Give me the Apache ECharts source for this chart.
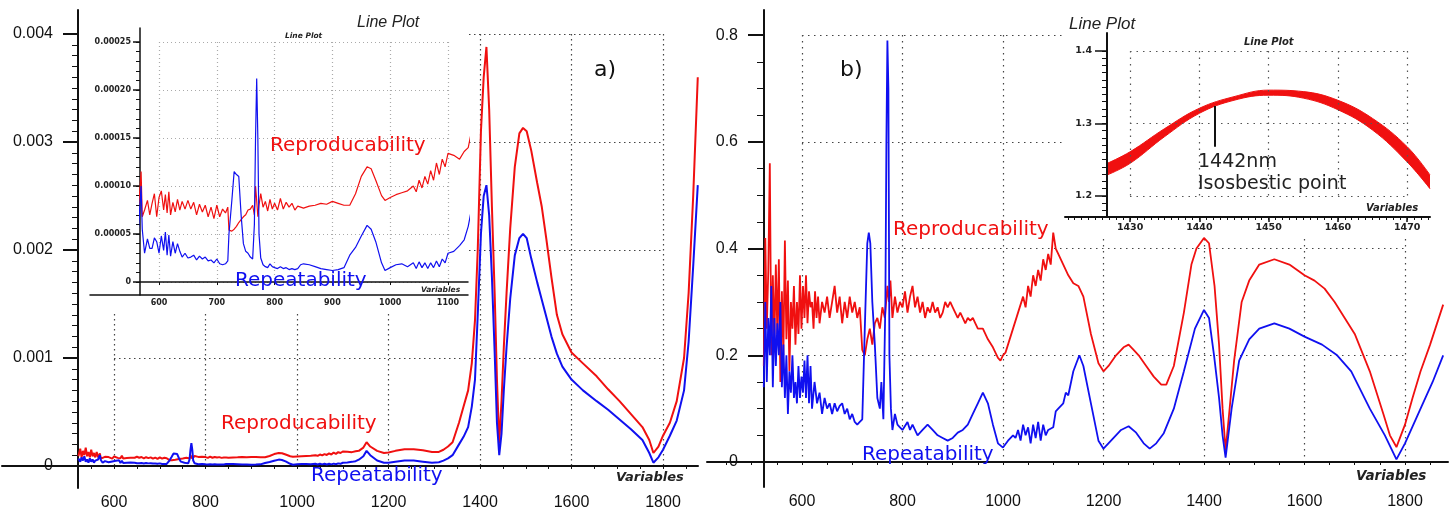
<!DOCTYPE html>
<html>
<head>
<meta charset="utf-8">
<script src="https://cdn.jsdelivr.net/npm/echarts@6/dist/echarts.min.js"></script>
<style>
  html, body { margin: 0; padding: 0; background: #fff; }
  #chart { width: 1450px; height: 508px; }
</style>
</head>
<body>
<div id="chart"></div>
<script>
// ---- panel a: standard deviations, values in units of 1e-5 ----
var aWave = [
  522, 526, 529, 532, 535, 538, 541, 544, 547, 550,
  553, 556, 559, 562, 565, 569, 571, 575, 580, 584,
  588, 592, 596, 600, 604, 608, 611, 614, 617, 620,
  624, 628, 632, 636, 640, 645, 650, 655, 660, 665,
  670, 675, 680, 685, 690, 695, 700, 705, 710, 715,
  719, 721, 726, 730, 734, 738, 742, 746, 750, 754,
  758, 762, 765, 767, 769, 771, 773, 776, 780, 784,
  788, 792, 796, 800, 805, 810, 815, 820, 825, 830,
  835, 840, 845, 850, 860, 870, 880, 890, 900, 910,
  920, 930, 940, 950, 960, 967, 975, 985, 991, 1000,
  1010, 1020, 1030, 1040, 1045, 1050, 1055, 1060, 1065, 1070,
  1075, 1080, 1085, 1090, 1095, 1100, 1110, 1120, 1128, 1135,
  1145, 1152, 1160, 1175, 1190, 1200, 1215, 1235, 1255, 1275,
  1295, 1310, 1320, 1330, 1340, 1354, 1364, 1374, 1382, 1389,
  1395, 1402, 1408, 1414, 1420, 1426, 1432, 1437, 1442, 1447,
  1452, 1458, 1466, 1476, 1486, 1494, 1502, 1512, 1525, 1535,
  1545, 1556, 1568, 1580, 1600, 1625, 1655, 1680, 1705, 1730,
  1755, 1770, 1779, 1790, 1800, 1815, 1830, 1846, 1856, 1866,
  1876
]
var aRepro = [
  9, 16, 8, 14, 10, 17, 9, 13, 8, 15,
  9, 12, 8, 13, 8, 11.5, 6.8, 7.5, 8.5, 7,
  8.2, 9.2, 6.8, 8.8, 9.5, 7.5, 9.1, 7.2, 9.4, 7.0,
  8.3, 7.3, 8.6, 7.5, 8.4, 7.6, 8.5, 7.6, 8.3, 7.0,
  8.1, 7.3, 8.0, 6.8, 7.8, 6.6, 8.0, 6.8, 7.6, 7.2,
  7.8, 5.4, 5.3, 5.5, 5.8, 6.2, 6.5, 6.8, 7.0, 7.5,
  7.6, 8.0, 7.0, 10.0, 8.5, 6.8, 8.0, 9.2, 7.8, 8.4,
  7.4, 8.6, 7.6, 8.2, 7.5, 8.7, 7.6, 8.3, 7.8, 8.2,
  7.5, 7.9, 7.8, 7.7, 7.9, 8.0, 8.2, 8.1, 8.4, 8.2,
  8.0, 8.0, 9.2, 11.0, 12.0, 11.8, 10.6, 9.0, 8.5, 8.8,
  9.1, 9.3, 9.5, 10.0, 9.4, 10.6, 9.8, 11.0, 10.2, 11.6,
  10.6, 12.4, 11.2, 12.8, 12.0, 13.4, 13.2, 12.8, 13.6, 14.0,
  17, 22, 18, 14, 12, 12.5, 14, 15.5, 15.5, 14.5,
  13, 13, 15, 18, 22, 40, 55, 70, 95, 135,
  200, 310, 360, 388, 330, 240, 160, 80, 21, 60,
  110, 160, 220, 277, 308, 313, 310, 292, 262, 240,
  210, 175, 140, 122, 105, 95, 83, 71, 60, 48,
  36, 24, 12, 18, 28, 40, 60, 100, 160, 250,
  360
]
var aRepeat = [
  7, 4, 8, 5, 9, 4, 6, 3, 7, 4,
  6, 3, 5, 4, 6, 10, 5.5, 3, 4.5, 3.5,
  3.5, 4.6, 4.2, 3.0, 4.8, 3.3, 5.2, 2.8, 4.9, 2.7,
  4.2, 3.0, 4.0, 3.2, 2.6, 3.0, 2.5, 2.6, 2.8, 2.3,
  2.7, 2.4, 2.6, 2.2, 2.3, 2.0, 2.4, 1.9, 1.8, 1.9,
  2.2, 5.0, 8.5, 11.5, 11.2, 11.0, 7.0, 4.0, 3.2, 3.0,
  2.6, 2.4, 6.0, 15.0, 21.2, 15.0, 5.0, 2.5, 1.8, 1.6,
  1.5, 1.9, 1.6, 1.5, 1.4, 1.6, 1.4, 1.5, 1.3, 1.4,
  1.3, 1.4, 1.8, 1.9, 1.8, 1.6, 1.4, 1.3, 1.2, 1.3,
  1.5, 2.8, 3.6, 4.8, 5.9, 5.5, 4.2, 2.0, 1.2, 1.5,
  1.8, 1.9, 1.6, 2.0, 1.4, 2.1, 1.5, 2.0, 1.4, 2.0,
  1.5, 2.2, 1.6, 2.4, 2.0, 3.0, 3.2, 3.8, 4.4, 5.8,
  9, 14, 10, 5, 3, 3, 4, 5, 5, 4,
  3, 3.5, 5, 7, 10, 20, 27, 36, 55, 80,
  140, 215, 250, 260, 232, 175, 105, 40, 10, 30,
  70, 110, 155, 195, 211, 215, 211, 192, 170, 154,
  138, 120, 104, 92, 80, 70, 60, 52, 43, 34,
  24, 12, 3, 8, 15, 28, 42, 70, 115, 185,
  260
]
var A_UNIT = 1e-5

// ---- panel b: relative values ----
var bReproWave = [
  524, 527, 530, 533, 536, 539, 542, 545, 548, 551,
  554, 557, 560, 563, 566, 569, 572, 575, 578, 581,
  584, 587, 590, 593, 596, 599, 602, 605, 608, 611,
  614, 617, 620, 623, 626, 629, 632, 635, 640, 645,
  650, 655, 660, 665, 670, 675, 680, 685, 690, 695,
  700, 705, 710, 715, 720, 725, 730, 735, 740, 745,
  750, 755, 760, 765, 770, 773, 776, 780, 785, 790,
  795, 800, 805, 810, 815, 820, 825, 830, 835, 840,
  845, 850, 855, 860, 865, 870, 875, 880, 885, 890,
  895, 900, 905, 910, 915, 920, 925, 930, 935, 940,
  945, 950, 960, 970, 980, 990, 995, 1000, 1005, 1010,
  1020, 1030, 1040, 1045, 1050, 1055, 1060, 1065, 1070, 1075,
  1080, 1085, 1090, 1095, 1100, 1105, 1110, 1120, 1130, 1140,
  1150, 1160, 1175, 1190, 1200, 1210, 1225, 1240, 1250, 1260,
  1270, 1285, 1300, 1315, 1325, 1340, 1360, 1375, 1385, 1400,
  1410, 1421, 1430, 1437, 1443, 1450, 1460, 1475, 1490, 1510,
  1540, 1570, 1600, 1620, 1640, 1660, 1680, 1700, 1730, 1757,
  1770, 1783, 1800, 1815, 1831, 1850, 1876
]
var bRepro = [
  0.18, 0.42, 0.25, 0.36, 0.56, 0.2, 0.35, 0.22, 0.37, 0.24,
  0.38, 0.15, 0.32, 0.2, 0.415, 0.23, 0.34, 0.17, 0.3, 0.25,
  0.33, 0.22, 0.3, 0.24, 0.35, 0.25, 0.33, 0.27, 0.35, 0.26,
  0.32, 0.29, 0.3, 0.25, 0.32, 0.27, 0.31, 0.26, 0.3, 0.28,
  0.31, 0.27, 0.3, 0.33, 0.28, 0.31, 0.26, 0.3, 0.27, 0.31,
  0.28, 0.3, 0.27, 0.29, 0.21, 0.2, 0.23, 0.25, 0.22, 0.26,
  0.27, 0.25, 0.29, 0.27, 0.33, 0.3, 0.34, 0.27, 0.31, 0.28,
  0.3, 0.29, 0.32, 0.28, 0.31, 0.33, 0.29, 0.31, 0.28, 0.3,
  0.27, 0.29, 0.28, 0.3, 0.28, 0.29, 0.27, 0.28, 0.3, 0.29,
  0.3, 0.29, 0.28, 0.27, 0.28, 0.27, 0.26, 0.27, 0.265, 0.27,
  0.26, 0.25, 0.25, 0.23, 0.215, 0.195, 0.19, 0.2, 0.205, 0.22,
  0.25, 0.28, 0.31, 0.29, 0.33, 0.31, 0.35, 0.33, 0.36, 0.34,
  0.38, 0.36, 0.39, 0.37, 0.43, 0.40, 0.39, 0.37, 0.35, 0.335,
  0.33, 0.31, 0.24, 0.185, 0.17, 0.18, 0.2, 0.215, 0.22, 0.21,
  0.2, 0.18, 0.16, 0.145, 0.145, 0.18, 0.28, 0.37, 0.40, 0.42,
  0.41, 0.33, 0.22, 0.1, 0.022, 0.09, 0.19, 0.3, 0.34, 0.37,
  0.38, 0.37, 0.35, 0.34, 0.325, 0.3, 0.27, 0.24, 0.17, 0.09,
  0.05, 0.028, 0.07, 0.12, 0.17, 0.22, 0.295
]
var bRepeatWave = [
  524, 527, 530, 533, 536, 539, 542, 545, 548, 551,
  554, 557, 560, 563, 566, 569, 572, 575, 578, 581,
  584, 587, 590, 593, 596, 599, 602, 605, 608, 611,
  614, 617, 620, 625, 630, 635, 640, 645, 650, 655,
  660, 665, 670, 675, 680, 685, 690, 695, 700, 705,
  710, 715, 720, 725, 730, 733, 736, 740, 745, 750,
  755, 758, 762, 766, 768, 770, 772, 774, 777, 780,
  785, 790, 795, 800, 810, 815, 820, 830, 840, 850,
  860, 870, 880, 890, 900, 910, 920, 930, 940, 950,
  960, 970, 980, 990, 1000, 1010, 1020, 1025, 1030, 1035,
  1040, 1045, 1050, 1055, 1060, 1065, 1070, 1075, 1080, 1085,
  1090, 1100, 1105, 1110, 1120, 1125, 1130, 1140, 1152, 1160,
  1175, 1190, 1200, 1215, 1235, 1250, 1265, 1280, 1292, 1305,
  1320, 1340, 1360, 1382, 1400, 1410, 1420, 1430, 1437, 1443,
  1455, 1470, 1490, 1510, 1540, 1570, 1600, 1635, 1665, 1693,
  1730, 1760, 1783, 1800, 1831, 1855, 1876
]
var bRepeat = [
  0.14, 0.3, 0.15, 0.27, 0.2, 0.33, 0.14, 0.27, 0.18, 0.26,
  0.2, 0.3, 0.14, 0.22, 0.12, 0.2, 0.09, 0.17, 0.13, 0.2,
  0.12, 0.15, 0.11, 0.18, 0.12, 0.16, 0.13, 0.19, 0.12, 0.2,
  0.11, 0.18, 0.1, 0.15, 0.11, 0.13, 0.09, 0.12, 0.1, 0.11,
  0.09, 0.11, 0.095, 0.105, 0.11, 0.09, 0.1, 0.08, 0.09, 0.075,
  0.07, 0.075, 0.08, 0.25, 0.41, 0.43, 0.41, 0.3, 0.22, 0.12,
  0.1, 0.15, 0.08, 0.3, 0.6, 0.79, 0.7, 0.2, 0.1, 0.06,
  0.09, 0.07, 0.065, 0.06, 0.075, 0.06, 0.07, 0.05, 0.06, 0.07,
  0.06, 0.05, 0.045, 0.04, 0.045, 0.055, 0.06, 0.07, 0.09, 0.11,
  0.13, 0.11, 0.07, 0.035, 0.027, 0.04, 0.05, 0.045, 0.06, 0.04,
  0.07, 0.05, 0.065, 0.035, 0.07, 0.045, 0.075, 0.04, 0.07, 0.05,
  0.06, 0.065, 0.095, 0.1, 0.11, 0.13, 0.125, 0.17, 0.2, 0.18,
  0.11, 0.04, 0.025, 0.04, 0.06, 0.067, 0.055, 0.035, 0.025, 0.035,
  0.054, 0.1, 0.17, 0.25, 0.285, 0.27, 0.2, 0.12, 0.05, 0.008,
  0.1, 0.19, 0.23, 0.25, 0.26, 0.25, 0.235, 0.22, 0.2, 0.17,
  0.1, 0.05, 0.005, 0.035, 0.1, 0.15, 0.2
]

// ---- inset b: band of spectra around the isosbestic point ----
var bandWave = [1426.7, 1430, 1435, 1440, 1445, 1450, 1455, 1460, 1465, 1470, 1473.3]
var bandLow = [1.229, 1.245, 1.282, 1.314, 1.332, 1.339, 1.335, 1.319, 1.291, 1.247, 1.210]
var bandHigh = [1.245, 1.261, 1.293, 1.321, 1.337, 1.346, 1.344, 1.332, 1.307, 1.268, 1.229]
var isoWave = 1442.2
var isoTop = 1.324
var isoBottom = 1.268

// ---- tick labels ----
var mainLabelsX = [600, 800, 1000, 1200, 1400, 1600, 1800]
var aLabelsY = [0, 0.001, 0.002, 0.003, 0.004]
var insetALabelsX = [600, 700, 800, 900, 1000, 1100]
var insetALabelsY = [0, 0.00005, 0.0001, 0.00015, 0.0002, 0.00025]
var bLabelsY = [0, 0.2, 0.4, 0.6, 0.8]
var insetBLabelsX = [1430, 1440, 1450, 1460, 1470]
var insetBLabelsY = [1.2, 1.3, 1.4]

var RED = '#f01010'
var BLUE = '#1010f0'
var INK = '#111'

function steps(from, to, step) {
  var out = []
  var n = Math.round((to - from) / step)
  for (var i = 0; i <= n; i++) out.push(+(from + i * step).toFixed(7))
  return out
}

function pairs(xs, ys, k) {
  return xs.map(function(x, i) { return [x, ys[i] * (k || 1)] })
}

function plain(v) { return String(v) }

var labelFont = { color: INK, fontSize: 16, fontFamily: 'Liberation Sans' }
var smallFont = { color: '#222', fontSize: 8, fontWeight: 'bold', fontFamily: 'DejaVu Sans' }
var midFont = { color: '#222', fontSize: 9.5, fontWeight: 'bold', fontFamily: 'DejaVu Sans' }

function noSplit() { return { show: false } }

// dotted grid box spanning only the labelled range
function boxAxis(grid, min, max, interval, color, dash, z) {
  return {
    type: 'value', gridIndex: grid, min: min, max: max, interval: interval, z: z || 0,
    axisLine: { show: false }, axisTick: { show: false }, axisLabel: { show: false },
    splitLine: { show: true, lineStyle: { color: color, width: 1.2, type: dash } }
  }
}

function tickAxis(grid, pos, min, max, offset, values, len, z) {
  return {
    type: 'value', gridIndex: grid, position: pos, min: min, max: max, offset: offset || 0, z: z || 0,
    axisLine: { show: false },
    axisTick: { show: true, customValues: values, length: len, lineStyle: { color: INK, width: 1 } },
    axisLabel: { show: false }, splitLine: noSplit()
  }
}

var chart = echarts.init(document.getElementById('chart'))

var grids = [
  { left: 2, top: 10, width: 696, height: 478 },      // 0 a main
  { left: 114, top: 34, width: 549, height: 432 },    // 1 a dotted box
  { left: 140, top: 28, width: 328, height: 267 },    // 2 a inset
  { left: 159, top: 42, width: 289, height: 240 },    // 3 a inset dotted box
  { left: 90, top: 28, width: 378, height: 267 },     // 4 a inset axis extension
  { left: 707, top: 10, width: 741, height: 477 },    // 5 b main
  { left: 802, top: 35, width: 603, height: 427 },    // 6 b dotted box
  { left: 1065, top: 33, width: 365, height: 184 },   // 7 b inset
  { left: 1130, top: 51, width: 277, height: 145 }    // 8 b inset dotted box
].map(function(g) {
  return Object.assign({ containLabel: false, outerBoundsMode: 'none' }, g)
})

var A_MIN_Y = -0.000204, A_MAX_Y = 0.004222
var IA_MIN_Y = -0.0000135, IA_MAX_Y = 0.0002646
var B_MIN_Y = -0.04686, B_MAX_Y = 0.8472
var IB_MIN_X = 1420.6, IB_MAX_X = 1473.3, IB_MIN_Y = 1.171, IB_MAX_Y = 1.4248

var xAxes = [
  { // 0 a main
    type: 'value', gridIndex: 0, min: 355, max: 1876.5,
    axisLine: { lineStyle: { color: INK, width: 2 } },
    axisTick: { customValues: steps(550, 1850, 50), length: 3, lineStyle: { color: INK } },
    axisLabel: Object.assign({ customValues: mainLabelsX, margin: 7, formatter: plain }, labelFont),
    splitLine: noSplit()
  },
  boxAxis(1, 600, 1800, 200, '#444', [1.5, 3.5]),   // 1
  { // 2 a inset
    type: 'value', gridIndex: 2, min: 567.1, max: 1134.6, z: 10,
    axisLine: { lineStyle: { color: INK, width: 1.5 } },
    axisTick: { customValues: insetALabelsX, length: 3, lineStyle: { color: INK } },
    axisLabel: Object.assign({ customValues: insetALabelsX, margin: 4, formatter: plain }, smallFont),
    splitLine: noSplit()
  },
  boxAxis(3, 600, 1100, 100, '#aaa', [1, 3], 9),      // 3
  { // 4 inset axis line extension
    type: 'value', gridIndex: 4, min: 0, max: 1, z: 10,
    axisLine: { lineStyle: { color: INK, width: 1.5 } },
    axisTick: { show: false }, axisLabel: { show: false }, splitLine: noSplit()
  },
  { // 5 b main
    type: 'value', gridIndex: 5, min: 411, max: 1885.6,
    axisLine: { lineStyle: { color: INK, width: 2 } },
    axisTick: { customValues: steps(450, 1850, 50), length: 3, lineStyle: { color: INK } },
    axisLabel: Object.assign({ customValues: mainLabelsX, margin: 7, formatter: plain }, labelFont),
    splitLine: noSplit()
  },
  boxAxis(6, 600, 1800, 200, '#444', [1.5, 4.5]),   // 6
  { // 7 b inset
    type: 'value', gridIndex: 7, min: IB_MIN_X, max: IB_MAX_X, z: 10,
    axisLine: { lineStyle: { color: INK, width: 2 } },
    axisTick: { customValues: insetBLabelsX, length: 5, lineStyle: { color: INK, width: 1.5 } },
    axisLabel: Object.assign({ customValues: insetBLabelsX, margin: 6, formatter: plain }, midFont),
    splitLine: noSplit()
  },
  tickAxis(7, 'bottom', IB_MIN_X, IB_MAX_X, 0, steps(1421, 1473, 1), 3, 10), // 8
  boxAxis(8, 1430, 1470, 10, '#555', [1.5, 5], 9)     // 9
]

var yAxes = [
  { // 0 a main
    type: 'value', gridIndex: 0, position: 'left', min: A_MIN_Y, max: A_MAX_Y, offset: -76,
    axisLine: { show: true, lineStyle: { color: INK, width: 2 } },
    axisTick: { show: true, customValues: aLabelsY, length: 15, lineStyle: { color: INK, width: 2 } },
    axisLabel: Object.assign({ customValues: aLabelsY, margin: 25 }, labelFont),
    splitLine: noSplit()
  },
  tickAxis(0, 'left', A_MIN_Y, A_MAX_Y, -76, steps(0, 0.004, 0.0001), 6),   // 1
  boxAxis(1, 0, 0.004, 0.001, '#444', [1.5, 3.5]),                            // 2
  { // 3 a inset
    type: 'value', gridIndex: 2, position: 'left', min: IA_MIN_Y, max: IA_MAX_Y, z: 10,
    axisLine: { show: true, lineStyle: { color: INK, width: 1.5 } },
    axisTick: { show: true, customValues: insetALabelsY, length: 7, lineStyle: { color: INK, width: 1.5 } },
    axisLabel: Object.assign({
      customValues: insetALabelsY, margin: 9,
      formatter: function(v) { return v === 0 ? '0' : v.toFixed(5) }
    }, smallFont),
    splitLine: noSplit()
  },
  tickAxis(2, 'left', IA_MIN_Y, IA_MAX_Y, 0, steps(0, 0.00025, 0.00001), 4, 10), // 4
  boxAxis(3, 0, 0.00025, 0.00005, '#aaa', [1, 3], 9),                             // 5
  { type: 'value', gridIndex: 4, min: 0, max: 1, show: false },                   // 6
  { // 7 b main
    type: 'value', gridIndex: 5, position: 'left', min: B_MIN_Y, max: B_MAX_Y, offset: -57,
    axisLine: { show: true, lineStyle: { color: INK, width: 2 } },
    axisTick: { show: true, customValues: bLabelsY, length: 16, lineStyle: { color: INK, width: 2 } },
    axisLabel: Object.assign({ customValues: bLabelsY, margin: 26 }, labelFont),
    splitLine: noSplit()
  },
  tickAxis(5, 'left', B_MIN_Y, B_MAX_Y, -57, steps(0, 0.8, 0.05), 7),        // 8
  boxAxis(6, 0, 0.8, 0.2, '#444', [1.5, 4.5]),                                 // 9
  { // 10 b inset
    type: 'value', gridIndex: 7, position: 'left', min: IB_MIN_Y, max: IB_MAX_Y, offset: -42, z: 10,
    axisLine: { show: true, lineStyle: { color: INK, width: 2 } },
    axisTick: { show: true, customValues: insetBLabelsY, length: 12, lineStyle: { color: INK, width: 1.5 } },
    axisLabel: Object.assign({ customValues: insetBLabelsY, margin: 15, formatter: function(v) { return v.toFixed(1) } }, midFont),
    splitLine: noSplit()
  },
  tickAxis(7, 'left', IB_MIN_Y, IB_MAX_Y, -42, steps(1.18, 1.4, 0.01), 5, 10), // 11
  boxAxis(8, 1.2, 1.4, 0.1, '#555', [1.5, 5], 9)                               // 12
]

function line(data, xi, yi, color, width, z) {
  return {
    type: 'line', xAxisIndex: xi, yAxisIndex: yi, data: data, symbol: 'none',
    lineStyle: { color: color, width: width }, itemStyle: { color: color }, z: z || 2, silent: true
  }
}

// band: red fill under the upper edge, then white fill under the lower edge
var bandUpper = line(pairs(bandWave, bandHigh), 7, 10, RED, 1, 6)
bandUpper.smooth = 0.4
bandUpper.areaStyle = { color: RED, opacity: 1, origin: 'start' }

var bandLower = line(pairs(bandWave, bandLow), 7, 10, RED, 1, 7)
bandLower.smooth = 0.4
bandLower.areaStyle = { color: '#fff', opacity: 1, origin: 'start' }
bandLower.markLine = {
  z: 11, symbol: 'none', silent: true, label: { show: false },
  lineStyle: { color: INK, width: 2, type: 'solid' },
  data: [[{ coord: [isoWave, isoTop] }, { coord: [isoWave, isoBottom] }]]
}

var series = [
  line(pairs(aWave, aRepro, A_UNIT), 0, 0, RED, 2),
  line(pairs(aWave, aRepeat, A_UNIT), 0, 0, BLUE, 2),
  line(pairs(aWave, aRepro, A_UNIT), 2, 3, RED, 1.2, 10),
  line(pairs(aWave, aRepeat, A_UNIT), 2, 3, BLUE, 1.2, 10),
  line(pairs(bReproWave, bRepro), 5, 7, RED, 1.8),
  line(pairs(bRepeatWave, bRepeat), 5, 7, BLUE, 1.8),
  bandUpper,
  bandLower
]

function label(text, left, top, style) {
  return {
    text: text, left: left, top: top, padding: 0, z: 12,
    textStyle: Object.assign({ color: INK, fontWeight: 'normal' }, style)
  }
}

var lineTitle = { fontStyle: 'italic', fontSize: 16, fontFamily: 'Liberation Sans', color: '#222' }
var tinyItalic = { fontStyle: 'italic', fontWeight: 'bold', fontFamily: 'DejaVu Sans', color: '#222' }
var curveFont = { fontSize: 20, fontFamily: 'DejaVu Sans' }

var titles = [
  label('Line Plot', 357, 15, lineTitle),
  label('Line Plot', 285, 32, Object.assign({ fontSize: 7.5 }, tinyItalic)),
  label('Variables', 421, 286, Object.assign({ fontSize: 7.5 }, tinyItalic)),
  label('Variables', 616, 471, Object.assign({ fontSize: 13 }, tinyItalic)),
  label('a)', 594, 59, { fontSize: 22, fontFamily: 'DejaVu Sans' }),
  label('Reproducability', 270, 136, Object.assign({ color: RED }, curveFont)),
  label('Repeatability', 235, 271, Object.assign({ color: BLUE }, curveFont)),
  label('Reproducability', 221, 414, Object.assign({ color: RED }, curveFont)),
  label('Repeatability', 311, 466, Object.assign({ color: BLUE }, curveFont)),
  label('Line Plot', 1069, 16, Object.assign({}, lineTitle, { fontSize: 17 })),
  label('Line Plot', 1244, 37, Object.assign({ fontSize: 10 }, tinyItalic)),
  label('Variables', 1366, 203, Object.assign({ fontSize: 10 }, tinyItalic)),
  label('Variables', 1356, 469, Object.assign({ fontSize: 13.5 }, tinyItalic)),
  label('b)', 840, 59, { fontSize: 22, fontFamily: 'DejaVu Sans' }),
  label('Reproducability', 893, 220, Object.assign({ color: RED }, curveFont)),
  label('Repeatability', 862, 445, Object.assign({ color: BLUE }, curveFont)),
  label('1442nm', 1198, 153, { fontSize: 19, fontFamily: 'DejaVu Sans', color: '#222' }),
  label('Isosbestic point', 1198, 175, { fontSize: 19, fontFamily: 'DejaVu Sans', color: '#222' })
]

chart.setOption({
  animation: false,
  backgroundColor: '#fff',
  title: titles,
  grid: grids,
  xAxis: xAxes,
  yAxis: yAxes,
  series: series,
  // white panels behind the two insets
  graphic: [
    { type: 'rect', z: 5, silent: true, shape: { x: 86, y: 14, width: 382, height: 299 }, style: { fill: '#fff' } },
    { type: 'rect', z: 5, silent: true, shape: { x: 1063, y: 8, width: 387, height: 228 }, style: { fill: '#fff' } }
  ]
})
</script>
</body>
</html>
